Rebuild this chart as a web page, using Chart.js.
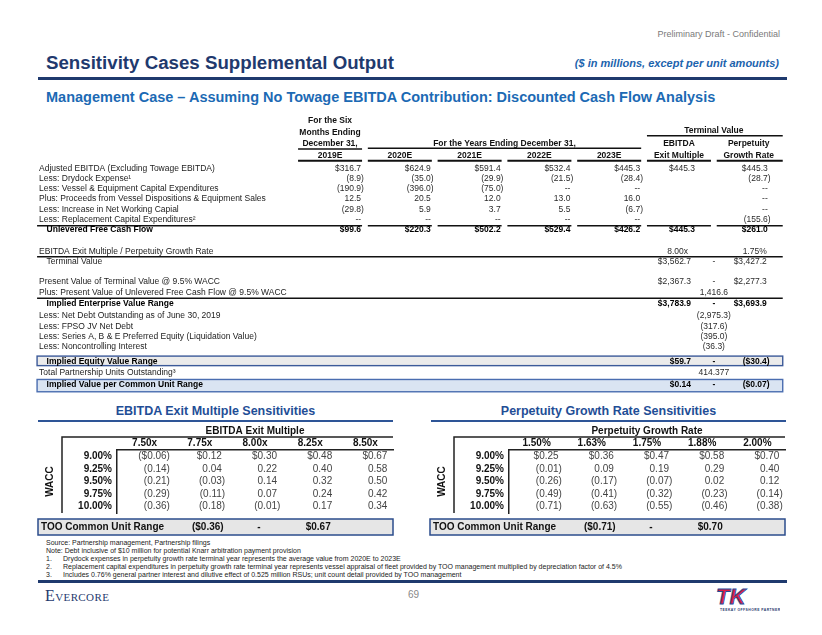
<!DOCTYPE html>
<html lang="en">
<head>
<meta charset="UTF-8" />
<meta name="viewport" content="width=device-width, initial-scale=1.0" />
<title>Sensitivity Cases Supplemental Output</title>
<style>
  * { margin: 0; padding: 0; box-sizing: border-box; }
  body {
    width: 822px;
    height: 635px;
    position: relative;
    background: #fff;
    overflow: hidden;
    font-family: "Liberation Sans", Arial, sans-serif;
    color: #222;
  }
  .t { position: absolute; white-space: nowrap; line-height: 1; }
  .draft { right: 42px; top: 30px; font-size: 9px; color: #7a7a7a; }
  .title { left: 46px; top: 54px; font-size: 18.7px; font-weight: bold; color: #1f3a6e; }
  .units { right: 43px; top: 58px; font-size: 11px; font-weight: bold; font-style: italic; color: #1c63ad; }
  .subtitle { left: 46px; top: 90px; font-size: 14.5px; font-weight: bold; color: #1c6ab4; }
  .rule { position: absolute; left: 38px; width: 749px; background: #1f3a6e; }
  .sens-title { top: 405px; width: 355px; text-align: center; font-size: 12.5px; font-weight: bold; color: #1f4e96; }
  .sens-rule { position: absolute; top: 420px; width: 355px; height: 1.5px; background: #2e5597; }
  .notes { position: absolute; left: 46px; top: 539px; font-size: 7px; line-height: 8.1px; color: #222; white-space: nowrap; }
  .notes span { display: inline-block; width: 17px; }
  .evercore { left: 45px; top: 588px; font-family: "Liberation Serif", serif; font-size: 16px; font-variant: small-caps; color: #1f3a6e; letter-spacing: 0.4px; }
  .page { left: 408px; top: 590px; font-size: 10px; color: #888; }
  canvas { position: absolute; }
</style>
<script src="https://cdn.jsdelivr.net/npm/chart.js"></script>
</head>
<body>
  <div class="t draft">Preliminary Draft - Confidential</div>
  <div class="t title">Sensitivity Cases Supplemental Output</div>
  <div class="t units">($ in millions, except per unit amounts)</div>
  <div class="rule" style="top:77px;height:2.5px"></div>
  <div class="t subtitle">Management Case – Assuming No Towage EBITDA Contribution: Discounted Cash Flow Analysis</div>

  <canvas id="dcf" width="822" height="285" style="left:0;top:112px"></canvas>

  <div class="t sens-title" style="left:38px">EBITDA Exit Multiple Sensitivities</div>
  <div class="sens-rule" style="left:38px"></div>
  <div class="t sens-title" style="left:431px">Perpetuity Growth Rate Sensitivities</div>
  <div class="sens-rule" style="left:431px"></div>
  <canvas id="exitSens" width="370" height="116" style="left:30px;top:422px"></canvas>
  <canvas id="growthSens" width="370" height="116" style="left:422px;top:422px"></canvas>

  <div class="notes">
    Source: Partnership management, Partnership filings<br />
    Note: Debt inclusive of $10 million for potential Knarr arbitration payment provision<br />
    <span>1.</span>Drydock expenses in perpetuity growth rate terminal year represents the average value from 2020E to 2023E<br />
    <span>2.</span>Replacement capital expenditures in perpetuity growth rate terminal year represents vessel appraisal of fleet provided by TOO management multiplied by depreciation factor of 4.5%<br />
    <span>3.</span>Includes 0.76% general partner interest and dilutive effect of 0.525 million RSUs; unit count detail provided by TOO management
  </div>
  <div class="rule" style="top:580px;height:2.5px"></div>
  <div class="t evercore">Evercore</div>
  <div class="t page">69</div>
  <svg style="position:absolute;left:714px;top:583px" width="66" height="30" viewBox="0 0 66 30">
    <text x="2" y="21" font-family="Liberation Sans, Arial" font-weight="bold" font-style="italic" font-size="22" fill="#d81e45" stroke="#1f4e9a" stroke-width="0.9">TK</text>
    <text x="6" y="28" font-family="Liberation Sans, Arial" font-size="3.4" font-weight="bold" fill="#1f3a6e" letter-spacing="0.45">TEEKAY OFFSHORE PARTNERS</text>
  </svg>

<script>
// ---------- DCF values ($ millions) ----------
const years = ["2019E", "2020E", "2021E", "2022E", "2023E"];
const adjustedEbitda   = [316.7, 624.9, 591.4, 532.4, 445.3];
const drydockExpense   = [-8.9, -35.0, -29.9, -21.5, -28.4];
const vesselCapex      = [-190.9, -396.0, -75.0, null, null];
const dispositionSales = [12.5, 20.5, 12.0, 13.0, 16.0];
const workingCapital   = [-29.8, 5.9, 3.7, 5.5, -6.7];
const replacementCapex = [null, null, null, null, null];
const unleveredFcf     = [99.6, 220.3, 502.2, 529.4, 426.2];

// terminal year columns, same rows as above ("" = blank, null = "--")
const exitMultipleFlow = [445.3, "", "", "", "", "", 445.3];
const perpetuityFlow   = [445.3, -28.7, null, null, null, -155.6, 261.0];

const rowLabels = [
  "Adjusted EBITDA (Excluding Towage EBITDA)",
  "Less: Drydock Expense¹",
  "Less: Vessel & Equipment Capital Expenditures",
  "Plus: Proceeds from Vessel Dispositions & Equipment Sales",
  "Less: Increase in Net Working Capial",
  "Less: Replacement Capital Expenditures²",
  "Unlevered Free Cash Flow",
  "EBITDA Exit Multiple / Perpetuity Growth Rate",
  "Terminal Value",
  "Present Value of Terminal Value @ 9.5% WACC",
  "Plus: Present Value of Unlevered Free Cash Flow @ 9.5% WACC",
  "Implied Enterprise Value Range",
  "Less: Net Debt Outstanding as of June 30, 2019",
  "Less: FPSO JV Net Debt",
  "Less: Series A, B & E Preferred Equity (Liquidation Value)",
  "Less: Noncontrolling Interest",
  "Implied Equity Value Range",
  "Total Partnership Units Outstanding³",
  "Implied Value per Common Unit Range"
];

const exitMultiple = "8.00x";
const growthRate = "1.75%";
const terminalValue = [3562.7, 3427.2];
const pvTerminalValue = [2367.3, 2277.3];
const pvFreeCashFlow = 1416.6;
const enterpriseValue = [3783.9, 3693.9];
const netDebt = -2975.3;
const fpsoNetDebt = -317.6;
const preferredEquity = -395.0;
const noncontrolling = -36.3;
const equityValue = [59.7, -30.4];
const unitsOutstanding = 414.377;
const valuePerUnit = [0.14, -0.07];

// ---------- sensitivities ($ per unit) ----------
const waccRates = ["9.00%", "9.25%", "9.50%", "9.75%", "10.00%"];
const exitMultiples = ["7.50x", "7.75x", "8.00x", "8.25x", "8.50x"];
const exitGrid = [
  [-0.06, 0.12, 0.30, 0.48, 0.67],
  [-0.14, 0.04, 0.22, 0.40, 0.58],
  [-0.21, -0.03, 0.14, 0.32, 0.50],
  [-0.29, -0.11, 0.07, 0.24, 0.42],
  [-0.36, -0.18, -0.01, 0.17, 0.34]
];
const exitRange = [-0.36, 0.67];
const growthRates = ["1.50%", "1.63%", "1.75%", "1.88%", "2.00%"];
const growthGrid = [
  [0.25, 0.36, 0.47, 0.58, 0.70],
  [-0.01, 0.09, 0.19, 0.29, 0.40],
  [-0.26, -0.17, -0.07, 0.02, 0.12],
  [-0.49, -0.41, -0.32, -0.23, -0.14],
  [-0.71, -0.63, -0.55, -0.46, -0.38]
];
const growthRange = [-0.71, 0.70];

// ---------- layout of the DCF table (scale units) ----------
const ROW_LINE = [0, 1, 2, 3, 4, 5, 6, 8.15, 9.15, 11.1, 12.15, 13.25, 14.35, 15.4, 16.4, 17.4, 18.85, 19.9, 21.15];
const BOLD_ROWS = [6, 11, 16, 18];
const INDENT_ROWS = [6, 8, 11, 16, 18];
const LABEL_X = -4.17, EXIT_COL = 5, PERP_COL = 6, MID_COL = 5.5;
const FONT = '"Liberation Sans", Arial, sans-serif';

function fmt(v, dollar, dec) {
  if (v === null) return "--";
  const s = (dollar ? "$" : "") + Math.abs(v).toLocaleString("en-US", { minimumFractionDigits: dec, maximumFractionDigits: dec });
  return v < 0 ? "(" + s + ")" : s;
}

// right aligned, closing parenthesis hangs past the edge
function drawNum(ctx, text, x, y) {
  ctx.textAlign = "right";
  const hang = text.endsWith(")") ? ctx.measureText(")").width : 0;
  ctx.fillText(text, x + hang, y);
}

// ---------- DCF cells ----------
const cells = [];
function add(x, row, v, o) {
  cells.push({
    x: x, y: ROW_LINE[row],
    text: typeof v === "string" ? v : fmt(v, o.dollar, o.dec === undefined ? 1 : o.dec),
    bold: !!o.bold, dx: o.dx || 0, align: o.align || "num"
  });
}
const flows = [adjustedEbitda, drydockExpense, vesselCapex, dispositionSales, workingCapital, replacementCapex, unleveredFcf];
flows.forEach((arr, r) => {
  const o = { dollar: r === 0 || r === 6, bold: r === 6 };
  arr.forEach((v, c) => add(c, r, v, Object.assign({}, o, { dx: 31 })));
  if (exitMultipleFlow[r] !== "") add(EXIT_COL, r, exitMultipleFlow[r], Object.assign({}, o, { dx: 16 }));
  add(PERP_COL, r, perpetuityFlow[r], Object.assign({}, o, { dx: 19 }));
});
add(EXIT_COL, 7, exitMultiple, { dx: 9 });
add(PERP_COL, 7, growthRate, { dx: 18 });
[[8, terminalValue, false], [9, pvTerminalValue, false], [11, enterpriseValue, true],
 [16, equityValue, true], [18, valuePerUnit, true]].forEach(([r, pair, bold]) => {
  const dec = r === 18 ? 2 : 1;
  add(EXIT_COL, r, pair[0], { dollar: true, bold, dec, dx: 12 });
  add(MID_COL, r, "-", { bold, align: "center" });
  add(PERP_COL, r, pair[1], { dollar: true, bold, dec, dx: 18 });
});
[[10, pvFreeCashFlow], [12, netDebt], [13, fpsoNetDebt], [14, preferredEquity], [15, noncontrolling]]
  .forEach(([r, v]) => add(MID_COL, r, v, { align: "center" }));
add(MID_COL, 17, unitsOutstanding, { dec: 3, align: "center" });

const labelCells = rowLabels.map((text, r) => ({
  x: LABEL_X, y: ROW_LINE[r], text,
  bold: BOLD_ROWS.includes(r), dx: INDENT_ROWS.includes(r) ? 7.5 : 0
}));

const dcfPlugin = {
  id: "dcfTable",
  beforeDatasetsDraw(chart) {
    const { ctx, scales } = chart;
    const X = v => scales.x.getPixelForValue(v), Y = v => scales.y.getPixelForValue(v);
    const L = X(LABEL_X) - 2, R = X(PERP_COL) + 34;
    ctx.save();
    [[18.32, 19.25, "#ebebeb", "#3c5a99"], [20.6, 21.8, "#dae4f2", "#4a6db0"]].forEach(([a, b, fill, stroke]) => {
      ctx.fillStyle = fill;
      ctx.fillRect(L, Y(a), R - L, Y(b) - Y(a));
      ctx.strokeStyle = stroke;
      ctx.lineWidth = 1.4;
      ctx.strokeRect(L, Y(a), R - L, Y(b) - Y(a));
    });
    ctx.restore();
  },
  afterDatasetsDraw(chart) {
    const { ctx, scales } = chart;
    const X = v => scales.x.getPixelForValue(v), Y = v => scales.y.getPixelForValue(v);
    const L = X(LABEL_X) - 2, R = X(PERP_COL) + 34;
    const line = (x1, x2, y, w) => {
      ctx.lineWidth = w;
      ctx.beginPath(); ctx.moveTo(x1, y); ctx.lineTo(x2, y); ctx.stroke();
    };
    ctx.save();
    ctx.textBaseline = "middle";
    ctx.strokeStyle = "#111";
    ctx.fillStyle = "#111";
    ctx.font = "bold 8.5px " + FONT;
    ctx.textAlign = "center";

    // column headings
    ctx.fillText("For the Six", X(0), Y(-4.64));
    ctx.fillText("Months Ending", X(0), Y(-3.47));
    ctx.fillText("December 31,", X(0), Y(-2.44));
    line(X(0) - 32, X(0) + 32, Y(-1.88), 1.4);
    ctx.fillText("For the Years Ending December 31,", (X(1) + X(4)) / 2, Y(-2.44));
    line(X(1) - 32, X(4) + 32, Y(-1.95), 1.4);
    ctx.fillText("Terminal Value", X(MID_COL), Y(-3.67));
    line(X(EXIT_COL) - 32, X(PERP_COL) + 34, Y(-3.18), 1.4);
    ctx.fillText("EBITDA", X(EXIT_COL), Y(-2.44));
    ctx.fillText("Exit Multiple", X(EXIT_COL), Y(-1.23));
    ctx.fillText("Perpetuity", X(PERP_COL), Y(-2.44));
    ctx.fillText("Growth Rate", X(PERP_COL), Y(-1.23));
    years.forEach((yr, i) => ctx.fillText(yr, X(i), Y(-1.23)));
    for (let c = 0; c <= PERP_COL; c++) line(X(c) - 32, X(c) + (c === PERP_COL ? 34 : 32), Y(-0.74), 2);

    // row rules
    line(L, X(0) + 32, Y(5.6), 1.6);
    for (let c = 1; c <= PERP_COL; c++) line(X(c) - 32, X(c) + (c === PERP_COL ? 34 : 32), Y(5.6), 1.6);
    line(L, R, Y(8.62), 1.5);
    line(L, R, Y(12.68), 1.5);

    // row labels
    const lm = chart.getDatasetMeta(0);
    chart.data.datasets[0].data.forEach((d, i) => {
      const el = lm.data[i];
      ctx.font = (d.bold ? "bold " : "") + "8.5px " + FONT;
      ctx.fillStyle = d.bold ? "#000" : "#222";
      ctx.textAlign = "left";
      ctx.fillText(d.text, el.x + d.dx, el.y);
    });

    // values
    const vm = chart.getDatasetMeta(1);
    chart.data.datasets[1].data.forEach((d, i) => {
      const el = vm.data[i];
      ctx.font = (d.bold ? "bold " : "") + "8.5px " + FONT;
      ctx.fillStyle = d.bold ? "#000" : "#2b2b2b";
      if (d.align === "center") {
        ctx.textAlign = "center";
        ctx.fillText(d.text, el.x, el.y);
      } else {
        drawNum(ctx, d.text, el.x + d.dx, el.y);
      }
    });
    ctx.restore();
  }
};

new Chart(document.getElementById("dcf"), {
  type: "scatter",
  data: {
    datasets: [
      { label: "rows", data: labelCells, pointRadius: 0 },
      { label: "values", data: cells, pointRadius: 0 }
    ]
  },
  options: {
    responsive: false,
    animation: false,
    events: [],
    devicePixelRatio: 1,
    layout: { padding: 0 },
    plugins: { legend: { display: false }, tooltip: { enabled: false } },
    scales: {
      x: { type: "linear", min: -4.73, max: 7.05, display: false },
      y: { type: "linear", min: -5.49, max: 22.31, reverse: true, display: false }
    }
  },
  plugins: [dcfPlugin]
});

// ---------- sensitivity grids ----------
const sensPlugin = {
  id: "sensTable",
  afterDatasetsDraw(chart) {
    const { ctx, chartArea: a, scales } = chart;
    const range = chart.options.plugins.sensTable.range;
    ctx.save();
    // outer bracket around the headings
    ctx.strokeStyle = "#222";
    ctx.lineWidth = 1.5;
    ctx.beginPath();
    ctx.moveTo(a.left - 55, a.bottom);
    ctx.lineTo(a.left - 55, a.top - 13);
    ctx.lineTo(a.right, a.top - 13);
    ctx.stroke();

    // grid values
    ctx.textBaseline = "middle";
    ctx.font = "10px " + FONT;
    ctx.fillStyle = "#444";
    const meta = chart.getDatasetMeta(0);
    chart.data.datasets[0].data.forEach((d, i) => {
      drawNum(ctx, fmt(d.v, d.first, 2), meta.data[i].x + 22, meta.data[i].y);
    });

    // unit range box
    const bx = a.left - 79, by = a.bottom + 6;
    ctx.fillStyle = "#e6e6e6";
    ctx.fillRect(bx, by, a.right - bx, 16);
    ctx.strokeStyle = "#2b4c8c";
    ctx.strokeRect(bx, by, a.right - bx, 16);
    ctx.fillStyle = "#111";
    ctx.font = "bold 10px " + FONT;
    ctx.textAlign = "left";
    ctx.fillText("TOO Common Unit Range", bx + 3, by + 8.5);
    ctx.textAlign = "center";
    ctx.fillText(fmt(range[0], true, 2), scales.x.getPixelForValue(1) + 8, by + 8.5);
    ctx.fillText("-", scales.x.getPixelForValue(2) + 4, by + 8.5);
    ctx.fillText(fmt(range[1], true, 2), scales.x.getPixelForValue(3) + 8, by + 8.5);
    ctx.restore();
  }
};

function sensitivityChart(id, cols, grid, range, title) {
  const data = [];
  grid.forEach((row, r) => row.forEach((v, c) => data.push({ x: cols[c], y: waccRates[r], v, first: r === 0 })));
  const axisFont = { family: FONT, size: 10, weight: "bold" };
  new Chart(document.getElementById(id), {
    type: "scatter",
    data: { datasets: [{ data, pointRadius: 0 }] },
    options: {
      responsive: false,
      animation: false,
      events: [],
      devicePixelRatio: 1,
      layout: { padding: { left: 0, right: 7, top: 0, bottom: 25 } },
      plugins: { legend: { display: false }, tooltip: { enabled: false }, sensTable: { range } },
      scales: {
        x: {
          type: "category", labels: cols, position: "top", offset: true,
          grid: { display: false, drawTicks: false },
          border: { display: true, color: "#222", width: 1.5 },
          ticks: { font: axisFont, color: "#111", padding: 1, autoSkip: false, maxRotation: 0 },
          title: { display: true, text: title, font: axisFont, color: "#111", padding: { top: 3, bottom: 0 } },
          afterFit: s => { s.height = 28; }
        },
        y: {
          type: "category", labels: waccRates, offset: true,
          grid: { display: false, drawTicks: false },
          border: { display: true, color: "#222", width: 1.5 },
          ticks: { font: axisFont, color: "#111", padding: 5, autoSkip: false },
          title: { display: true, text: "WACC", font: axisFont, color: "#111", padding: { top: 14, bottom: 0 } },
          afterFit: s => { s.width = 87; }
        }
      }
    },
    plugins: [sensPlugin]
  });
}

sensitivityChart("exitSens", exitMultiples, exitGrid, exitRange, "EBITDA Exit Multiple");
sensitivityChart("growthSens", growthRates, growthGrid, growthRange, "Perpetuity Growth Rate");
</script>
</body>
</html>
